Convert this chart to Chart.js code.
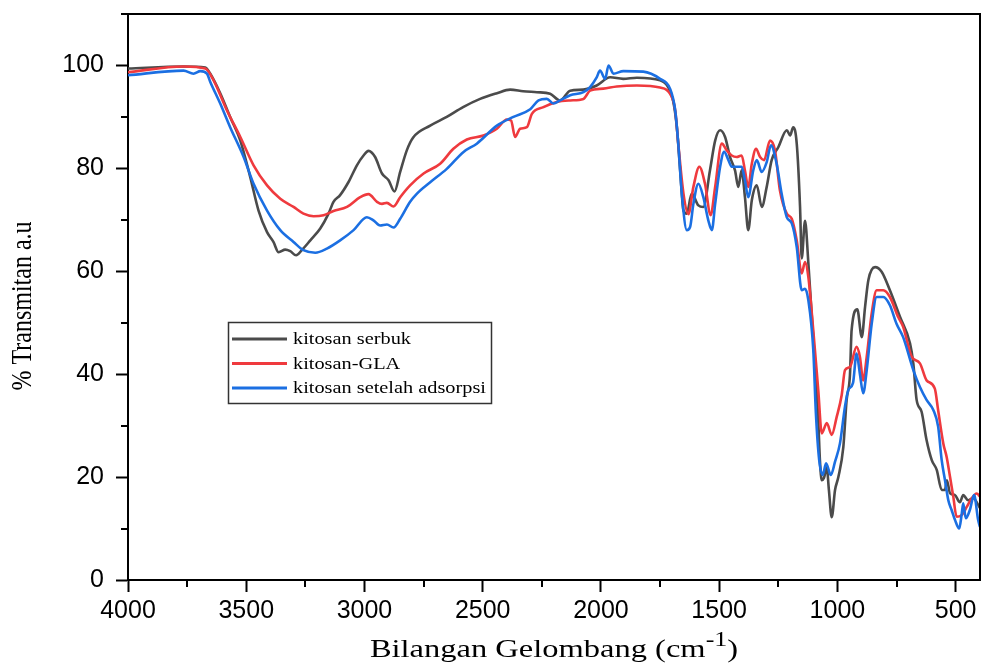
<!DOCTYPE html>
<html>
<head>
<meta charset="utf-8">
<script src="https://cdn.jsdelivr.net/npm/chart.js@4.4.0/dist/chart.umd.min.js"></script>
<style>
  html, body { margin: 0; padding: 0; background: #fff; }
  canvas { display: block; }
</style>
</head>
<body>
<canvas id="ftirChart" width="982" height="666"></canvas>
<script>
// ---- data (wavenumber in cm-1, transmittance in %) ----
const seriesNames = ["kitosan serbuk", "kitosan-GLA", "kitosan setelah adsorpsi"];
const seriesColors = ["#4b4b4b", "#ef3a3e", "#1b6fe2"];

const waveSerbuk = [4000,3765,3673,3652,3610,3568,3525,3483,3448,3412,3385,3363,3335,3314,3289,3265,3229,3187,3152,3131,3103,3068,3032,3004,2983,2955,2926,2898,2873,2849,2821,2794,2722,2652,2583,2511,2440,2384,2329,2271,2215,2173,2130,2075,2018,1961,1906,1848,1750,1716,1695,1679,1665,1651,1637,1616,1588,1567,1539,1517,1496,1475,1454,1433,1419,1405,1391,1377,1362,1341,1320,1299,1278,1250,1214,1200,1187,1172,1158,1151,1137,1123,1109,1095,1081,1074,1066,1057,1045,1036,1024,1010,996,975,961,947,940,916,897,883,869,841,813,778,735,693,679,665,644,623,601,580,559,545,537,524,503,482,468,447,426,397];
const transSerbuk = [99.4,99.8,99.6,98.4,94.6,90.0,85.4,78.3,71.8,67.6,65.7,63.7,64.2,63.9,63.1,64.1,66.0,68.3,71.2,73.5,74.8,77.3,80.6,82.5,83.4,82.2,79.0,77.7,75.5,79.3,83.5,86.0,88.3,90.0,91.9,93.5,94.6,95.3,95.0,94.8,94.5,93.2,95.1,95.3,96.1,97.7,97.4,97.6,97.1,95.8,93.2,88.0,79.6,71.8,71.2,75.1,72.8,72.5,79.6,85.4,87.4,86.1,82.2,79.6,76.4,79.6,74.4,68.0,73.8,76.7,72.5,76.4,81.6,84.1,87.4,86.4,88.0,84.8,72.5,62.5,69.8,61.7,51.8,42.1,31.1,23.3,19.4,19.8,21.9,17.5,12.2,17.5,20.0,25.8,35.0,39.8,48.5,52.6,47.2,53.1,58.3,60.8,59.9,56.3,51.1,46.0,42.1,35.0,32.7,27.2,23.3,21.4,17.5,17.5,19.4,16.9,16.5,15.1,16.5,15.5,15.9,14.0];

const waveGLA = [4000,3765,3673,3638,3582,3525,3469,3412,3356,3300,3258,3215,3173,3131,3074,3018,2983,2947,2926,2905,2877,2849,2807,2750,2680,2624,2567,2497,2440,2398,2380,2363,2342,2313,2292,2243,2187,2130,2074,2046,1990,1933,1848,1750,1708,1686,1673,1651,1630,1609,1584,1560,1536,1517,1489,1468,1447,1426,1405,1391,1377,1362,1344,1327,1310,1285,1264,1243,1214,1193,1172,1151,1137,1123,1102,1081,1066,1045,1024,1003,982,968,947,919,905,891,876,855,834,806,778,743,722,686,651,623,588,574,552,538,524,510,496,475,453,432,411,397];
const transGLA = [98.7,99.8,99.4,97.1,91.3,86.1,80.6,76.7,74.1,72.5,71.2,70.7,70.9,71.7,72.5,74.4,75.0,73.5,73.1,73.3,72.6,74.4,76.7,79.0,80.9,83.8,85.6,86.4,87.7,89.5,89.3,86.1,87.7,88.0,90.6,91.9,92.9,93.2,93.5,95.1,95.5,95.9,96.1,95.7,94.5,91.3,84.8,75.1,71.1,76.4,80.3,77.0,70.9,76.4,84.8,83.5,82.5,82.2,82.5,79.6,76.4,80.9,83.8,82.2,81.6,85.4,83.5,75.7,71.2,70.2,66.0,59.6,61.8,58.9,48.5,36.9,28.5,30.5,28.2,31.7,35.9,40.8,41.4,45.3,43.4,38.8,43.4,51.8,56.3,56.3,55.0,51.1,49.2,43.4,42.1,38.8,37.2,33.0,26.5,23.9,20.1,16.2,12.3,12.6,14.2,15.9,16.8,16.2];

const waveAdsorpsi = [4000,3765,3723,3694,3666,3652,3610,3568,3511,3469,3412,3356,3300,3258,3208,3159,3103,3046,2990,2962,2934,2905,2877,2849,2807,2778,2722,2652,2581,2525,2440,2370,2299,2264,2229,2201,2173,2130,2074,2046,2018,2004,1982,1968,1947,1905,1821,1750,1708,1686,1673,1658,1637,1623,1609,1588,1567,1546,1531,1517,1496,1479,1461,1447,1426,1405,1391,1377,1356,1341,1320,1299,1281,1257,1236,1214,1193,1172,1151,1137,1123,1102,1091,1077,1062,1048,1028,1010,989,968,954,934,919,905,891,876,855,834,806,778,750,722,679,651,623,594,574,559,545,531,517,503,485,475,468,457,440,422,405,397];
const transAdsorpsi = [98.1,99.0,98.4,98.9,98.4,96.8,92.6,88.0,82.2,77.0,71.8,68.0,65.7,64.1,63.6,64.4,66.0,68.0,70.5,69.9,68.9,69.1,68.5,70.2,73.5,75.1,77.3,79.9,83.2,84.8,88.3,90.0,91.5,93.2,93.5,92.6,93.2,94.2,94.8,95.8,97.7,99.0,97.4,100.0,98.4,98.9,98.8,97.4,95.5,91.3,84.8,75.1,68.0,68.6,73.1,77.0,74.4,69.9,68.0,73.1,80.3,83.2,81.6,80.3,80.3,80.3,77.7,74.4,79.6,81.6,79.3,81.2,84.5,80.9,75.1,70.5,69.3,64.7,56.3,56.6,54.4,44.7,32.4,23.3,20.4,22.7,20.4,23.0,26.6,33.7,36.9,38.3,44.0,40.1,36.3,40.8,49.8,55.0,55.0,53.4,49.8,47.2,40.8,37.5,35.0,33.0,29.8,23.3,19.4,15.5,13.6,11.7,10.0,12.6,14.9,12.0,13.6,16.5,11.7,10.3];

const xTicks = [4000, 3500, 3000, 2500, 2000, 1500, 1000, 500];
const xMinorTicks = [3750, 3250, 2750, 2250, 1750, 1250, 750];
const yTicks = [0, 20, 40, 60, 80, 100];
const yMinorTicks = [10, 30, 50, 70, 90, 110];

function toPoints(waves, values) {
  return waves.map((w, i) => ({ x: w, y: values[i] }));
}

const allWaves = [waveSerbuk, waveGLA, waveAdsorpsi];
const allValues = [transSerbuk, transGLA, transAdsorpsi];

// frame, minor ticks, axis titles and the boxed legend
const decorPlugin = {
  id: 'decor',
  afterDraw(chart) {
    const ctx = chart.ctx;
    const area = chart.chartArea;
    const xs = chart.scales.x;
    const ys = chart.scales.y;
    ctx.save();
    ctx.strokeStyle = '#000';
    ctx.lineWidth = 2;
    ctx.beginPath();
    ctx.moveTo(area.left, area.top);
    ctx.lineTo(area.right, area.top);
    ctx.lineTo(area.right, area.bottom);
    ctx.stroke();

    // minor ticks
    ctx.beginPath();
    xMinorTicks.forEach(v => {
      const px = Math.round(xs.getPixelForValue(v));
      ctx.moveTo(px, area.bottom);
      ctx.lineTo(px, area.bottom + 7);
    });
    yMinorTicks.forEach(v => {
      const py = Math.round(ys.getPixelForValue(v));
      ctx.moveTo(area.left - 7, py);
      ctx.lineTo(area.left, py);
    });
    ctx.stroke();

    // x title with superscript
    ctx.fillStyle = '#000';
    ctx.textBaseline = 'alphabetic';
    const main = 'Bilangan Gelombang (cm';
    const sup = '-1';
    const close = ')';
    ctx.save();
    ctx.translate((area.left + area.right) / 2, 657);
    ctx.scale(1.3, 1);
    ctx.font = '25px "Liberation Serif", "Times New Roman", serif';
    const wMain = ctx.measureText(main).width;
    const wClose = ctx.measureText(close).width;
    ctx.font = '20px "Liberation Serif", "Times New Roman", serif';
    const wSup = ctx.measureText(sup).width;
    let x0 = -(wMain + wSup + wClose) / 2;
    ctx.font = '25px "Liberation Serif", "Times New Roman", serif';
    ctx.textAlign = 'left';
    ctx.fillText(main, x0, 0);
    ctx.font = '20px "Liberation Serif", "Times New Roman", serif';
    ctx.fillText(sup, x0 + wMain, -11);
    ctx.font = '25px "Liberation Serif", "Times New Roman", serif';
    ctx.fillText(close, x0 + wMain + wSup, 0);
    ctx.restore();

    // y title
    ctx.save();
    ctx.translate(23, 306);
    ctx.rotate(-Math.PI / 2);
    ctx.scale(1, 1.25);
    ctx.font = '24px "Liberation Serif", "Times New Roman", serif';
    ctx.textAlign = 'center';
    ctx.textBaseline = 'middle';
    ctx.fillText('% Transmitan a.u', 0, 0);
    ctx.restore();

    // legend box
    ctx.lineWidth = 1.5;
    ctx.strokeStyle = '#333';
    ctx.strokeRect(228.5, 322.5, 263, 81);
    chart.data.datasets.forEach((ds, i) => {
      const ly = 339 + i * 24.5;
      ctx.strokeStyle = ds.borderColor;
      ctx.lineWidth = 3;
      ctx.beginPath();
      ctx.moveTo(232, ly);
      ctx.lineTo(287, ly);
      ctx.stroke();
      ctx.save();
      ctx.translate(293, ly);
      ctx.scale(1.27, 1);
      ctx.fillStyle = '#000';
      ctx.font = '16px "Liberation Serif", "Times New Roman", serif';
      ctx.textAlign = 'left';
      ctx.textBaseline = 'middle';
      ctx.fillText(ds.label, 0, 1);
      ctx.restore();
    });
    ctx.restore();
  }
};

const ctx = document.getElementById('ftirChart').getContext('2d');
const ftirChart = new Chart(ctx, {
  type: 'line',
  data: {
    datasets: seriesNames.map((name, i) => ({
      label: name,
      data: toPoints(allWaves[i], allValues[i]),
      borderColor: seriesColors[i],
      borderWidth: 2.6,
      pointRadius: 0,
      fill: false,
      cubicInterpolationMode: 'monotone',
      order: 3 - i
    }))
  },
  options: {
    responsive: false,
    animation: false,
    devicePixelRatio: 1,
    layout: { padding: { top: 14, right: 2, left: 0, bottom: 0 } },
    plugins: {
      legend: { display: false },
      tooltip: { enabled: false }
    },
    scales: {
      x: {
        type: 'linear',
        reverse: true,
        min: 397,
        max: 4000,
        afterBuildTicks: s => { s.ticks = xTicks.map(v => ({ value: v })); },
        afterFit: s => { s.height = 86; s.paddingLeft = 0; s.paddingRight = 0; },
        border: { color: '#000', width: 2 },
        grid: { drawOnChartArea: false, drawTicks: true, tickLength: 12, tickWidth: 2, color: '#000' },
        ticks: {
          color: '#000',
          maxRotation: 0,
          autoSkip: false,
          padding: 4,
          callback: v => String(v),
          font: { family: '"Liberation Sans", Arial, sans-serif', size: 25 }
        }
      },
      y: {
        min: 0,
        max: 110,
        afterBuildTicks: s => { s.ticks = yTicks.map(v => ({ value: v })); },
        afterFit: s => { s.width = 128; s.paddingTop = 0; s.paddingBottom = 0; },
        border: { color: '#000', width: 2 },
        grid: { drawOnChartArea: false, drawTicks: true, tickLength: 12, tickWidth: 2, color: '#000' },
        ticks: {
          color: '#000',
          padding: 12,
          callback: v => String(v),
          font: { family: '"Liberation Sans", Arial, sans-serif', size: 25 }
        }
      }
    }
  },
  plugins: [decorPlugin]
});
</script>
</body>
</html>
